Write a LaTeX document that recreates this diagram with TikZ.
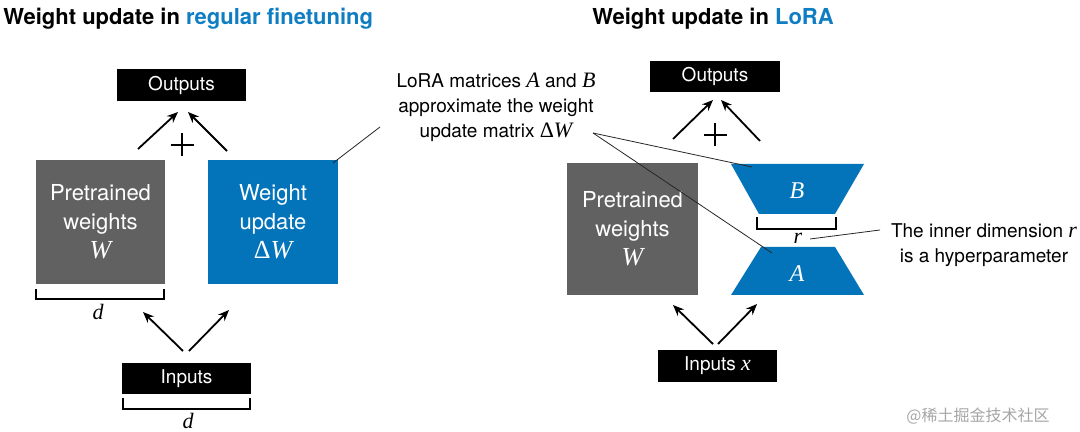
\documentclass[tikz,border=0pt]{standalone}
\usepackage{fontspec}
\setmainfont{TeX Gyre Heros}
\newfontfamily\serf{Liberation Serif}
\newfontfamily\cjk{Noto Sans CJK SC}
\usetikzlibrary{arrows.meta}
\definecolor{loblue}{HTML}{0474BA}
\definecolor{tblue}{HTML}{0F7DC2}
\definecolor{logray}{HTML}{616161}
\newcommand\mv[1]{{\serf\itshape #1}}
\newcommand\mvn[1]{{\fontsize{11}{12}\selectfont\serf\itshape #1}}
\newcommand\dW{{\serf Δ\itshape W}}
\newcommand\dWn{{\fontsize{11}{12}\selectfont\serf Δ\itshape W}}
\begin{document}
\begin{tikzpicture}[x=0.5pt,y=-0.5pt,
  blk/.style={fill=black,text=white,inner sep=0,font=\fontsize{9.5}{11}\selectfont},
  wbox/.style={fill=logray,text=white,inner sep=0,align=center,font=\fontsize{11}{14.5}\selectfont},
  ubox/.style={wbox,fill=loblue},
  arr/.style={-{Stealth[length=5.5pt,width=4.5pt]},line width=0.9pt},
  brk/.style={line width=0.7pt},
  call/.style={line width=0.4pt,draw=black!85},
  ttl/.style={font=\fontsize{11}{13}\selectfont\bfseries,anchor=west,inner sep=0},
  note/.style={align=center,font=\fontsize{9.5}{12.5}\selectfont,inner sep=0},
  plus/.style={line width=1pt},
  big/.style={font=\fontsize{12}{14}\selectfont},
  dlab/.style={font=\fontsize{11}{12}\selectfont,inner sep=0}]
\useasboundingbox (0,0) rectangle (1080,432);

% ---------- left ----------
\node[ttl] (t1) at (3,19) {Weight update in \textcolor{tblue}{regular finetuning}};
\node[blk,minimum width=64.5pt,minimum height=16pt] (out1) at (181.5,85) {Outputs};
\node[wbox,minimum width=64.5pt,minimum height=62pt] (pre1) at (100.5,222) {Pretrained\\weights\\{\fontsize{13}{14.5}\selectfont\mv{W}}};
\node[ubox,minimum width=65pt,minimum height=62pt] (upd1) at (273,222) {Weight\\update\\{\fontsize{13}{14.5}\selectfont\dW}};
\node[blk,minimum width=64.5pt,minimum height=15.5pt] (in1) at (186.5,378.5) {Inputs};
\coordinate (p1) at (182,145);
\draw[plus] ([xshift=-5.75pt]p1) -- ([xshift=5.75pt]p1) ([yshift=-5.75pt]p1) -- ([yshift=5.75pt]p1);

\coordinate (a1s) at (138,149); \coordinate (a1e) at (178,112);
\coordinate (a2s) at (227,151); \coordinate (a2e) at (188,112);
\coordinate (a3s) at (183,351); \coordinate (a3e) at (143,312);
\coordinate (a4s) at (189,351); \coordinate (a4e) at (229,310);
\draw[arr] (a1s) -- (a1e);
\draw[arr] (a2s) -- (a2e);
\draw[arr] (a3s) -- (a3e);
\draw[arr] (a4s) -- (a4e);

\draw[brk] (36,289) -- (36,299) -- (164,299) -- (164,289);
\node[dlab] (d1) at (98,312) {\mv{d}};
\draw[brk] (123,398) -- (123,409) -- (250,409) -- (250,398);
\node[dlab] (d2) at (188,421) {\mv{d}};

% ---------- callout ----------
\node[note] (c1) at (496,107) {LoRA matrices \mvn{A} and \mvn{B}\\approximate the weight\\update matrix \dWn};
\coordinate (c1a) at (380,127); \coordinate (c1b) at (333,163);
\draw[call] (c1a) -- (c1b);
\coordinate (c1r) at (593,133);
\coordinate (cB) at (752,167); \coordinate (cA) at (772,253);

% ---------- right ----------
\node[ttl] (t2) at (592,19) {Weight update in \textcolor{tblue}{LoRA}};
\node[blk,minimum width=65pt,minimum height=15.5pt] (out2) at (715,76.5) {Outputs};
\node[wbox,minimum width=65.5pt,minimum height=66pt] (pre2) at (632.5,229) {Pretrained\\weights\\{\fontsize{13}{14.5}\selectfont\mv{W}}};
\coordinate (p2) at (715,135);
\draw[plus] ([xshift=-5.75pt]p2) -- ([xshift=5.75pt]p2) ([yshift=-5.75pt]p2) -- ([yshift=5.75pt]p2);
\node[blk,minimum width=59.5pt,minimum height=16pt] (in2) at (717.5,366) {Inputs \mvn{x}};

\fill[loblue] (731,164) -- (864,164) -- (835,214) -- (759,214) -- cycle;
\fill[loblue] (761,247) -- (835,247) -- (864,295) -- (731,295) -- cycle;
\node[big,text=white] (B) at (797,191) {\mv{B}};
\node[big,text=white] (A) at (797,274) {\mv{A}};
\draw[call] (c1r) -- (cB);
\draw[call] (c1r) -- (cA);

\draw[brk] (757,217) -- (757,229) -- (836,229) -- (836,217);
\node[dlab] (r) at (798,238) {\mv{r}};

\coordinate (b1s) at (673,139); \coordinate (b1e) at (713,100);
\coordinate (b2s) at (760,141); \coordinate (b2e) at (721,100);
\coordinate (b3s) at (713,344); \coordinate (b3e) at (673,305);
\coordinate (b4s) at (718,344); \coordinate (b4e) at (757,304);
\draw[arr] (b1s) -- (b1e);
\draw[arr] (b2s) -- (b2e);
\draw[arr] (b3s) -- (b3e);
\draw[arr] (b4s) -- (b4e);

\node[note] (c2) at (984,245) {The inner dimension \mvn{r}\\is a hyperparameter};
\coordinate (c2l) at (880,230); \coordinate (c2r) at (810,239);
\draw[call] (c2l) -- (c2r);

\node[inner sep=0,text=black!35,font=\cjk\fontsize{8}{9}\selectfont] (wm) at (978,416) {@稀土掘金技术社区};
\end{tikzpicture}
\end{document}
